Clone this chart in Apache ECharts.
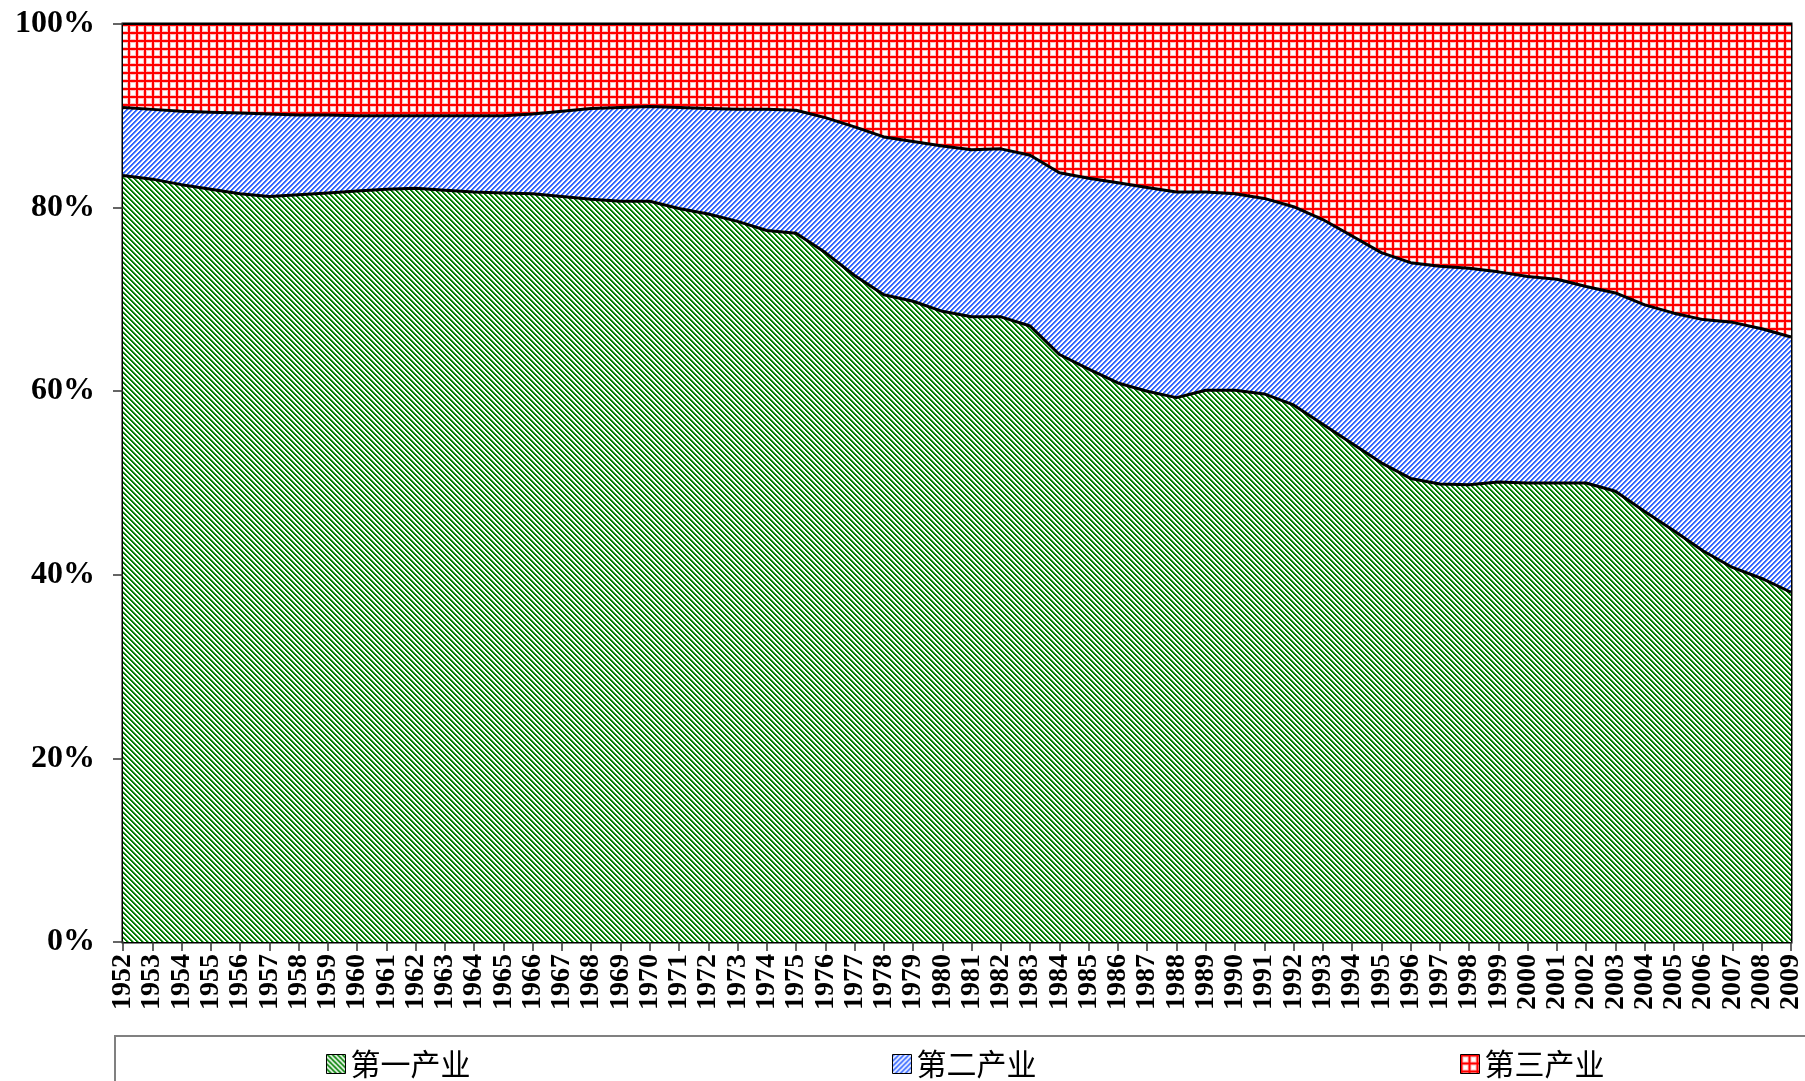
<!DOCTYPE html>
<html>
<head>
<meta charset="utf-8">
<title>三次产业就业结构</title>
<script src="https://cdn.jsdelivr.net/npm/echarts@6/dist/echarts.min.js"></script>
<style>
  html, body { margin: 0; padding: 0; background: #fff; }
  #main { width: 1805px; height: 1081px; }
</style>
</head>
<body>
<div id="main"></div>
<script>
// 年份
const years = ['1952', '1953', '1954', '1955', '1956', '1957', '1958', '1959', '1960', '1961',
  '1962', '1963', '1964', '1965', '1966', '1967', '1968', '1969', '1970', '1971',
  '1972', '1973', '1974', '1975', '1976', '1977', '1978', '1979', '1980', '1981',
  '1982', '1983', '1984', '1985', '1986', '1987', '1988', '1989', '1990', '1991',
  '1992', '1993', '1994', '1995', '1996', '1997', '1998', '1999', '2000', '2001',
  '2002', '2003', '2004', '2005', '2006', '2007', '2008', '2009'];

// 第一产业（%）
const primary = [83.5, 83.1, 82.5, 82.0, 81.5, 81.2, 81.4, 81.6, 81.8, 82.0,
  82.1, 81.9, 81.7, 81.6, 81.5, 81.2, 80.9, 80.7, 80.7, 79.9,
  79.3, 78.5, 77.5, 77.2, 75.1, 72.6, 70.5, 69.8, 68.7, 68.1,
  68.1, 67.1, 64.0, 62.4, 60.9, 60.0, 59.3, 60.1, 60.1, 59.7,
  58.5, 56.4, 54.3, 52.2, 50.5, 49.9, 49.8, 50.1, 50.0, 50.0,
  50.0, 49.1, 46.9, 44.8, 42.6, 40.8, 39.6, 38.1];

// 第二产业（%）
const secondary = [7.4, 7.6, 8.0, 8.4, 8.8, 9.0, 8.7, 8.5, 8.2, 8.0,
  7.9, 8.1, 8.3, 8.4, 8.7, 9.3, 9.9, 10.2, 10.3, 11.0,
  11.5, 12.2, 13.2, 13.4, 14.7, 16.2, 17.2, 17.4, 18.0, 18.2,
  18.3, 18.6, 19.8, 20.8, 21.8, 22.2, 22.4, 21.6, 21.4, 21.3,
  21.6, 22.3, 22.6, 22.9, 23.5, 23.7, 23.6, 22.9, 22.5, 22.2,
  21.4, 21.6, 22.5, 23.7, 25.2, 26.7, 27.2, 27.8];

// 第三产业（%）
const tertiary = [9.1, 9.3, 9.5, 9.6, 9.7, 9.8, 9.9, 9.9, 10.0, 10.0,
  10.0, 10.0, 10.0, 10.0, 9.8, 9.5, 9.2, 9.1, 9.0, 9.1,
  9.2, 9.3, 9.3, 9.4, 10.2, 11.2, 12.3, 12.8, 13.3, 13.7,
  13.6, 14.3, 16.2, 16.8, 17.3, 17.8, 18.3, 18.3, 18.5, 19.0,
  19.9, 21.3, 23.1, 24.9, 26.0, 26.4, 26.6, 27.0, 27.5, 27.8,
  28.6, 29.3, 30.6, 31.5, 32.2, 32.5, 33.2, 34.1];

const yTicks = [0, 20, 40, 60, 80, 100];

// 像素级填充图案
const makePattern = (size, pick) => {
  const c = document.createElement('canvas');
  c.width = size;
  c.height = size;
  const ctx = c.getContext('2d');
  const img = ctx.createImageData(size, size);
  for (let y = 0; y < size; y++) {
    for (let x = 0; x < size; x++) {
      const col = pick(x, y);
      const i = (y * size + x) * 4;
      img.data[i] = col[0];
      img.data[i + 1] = col[1];
      img.data[i + 2] = col[2];
      img.data[i + 3] = 255;
    }
  }
  ctx.putImageData(img, 0, 0);
  return c;
};

const WHITE = [255, 255, 255];
const greenTile = makePattern(5, (x, y) => {
  const d = (x - y + 5) % 5;
  return d < 2 ? [0, 128, 0] : (d === 2 ? [128, 192, 128] : WHITE);
});
const blueTile = makePattern(5, (x, y) => {
  const d = (x + y) % 5;
  return d < 2 ? [51, 102, 255] : (d === 2 ? [153, 178, 255] : WHITE);
});
const redTile = makePattern(8, (x, y) => {
  const a = x % 8, b = y % 8;
  if (a < 2 || b < 2) return [255, 0, 0];
  if (a === 2 || b === 2 || a === 7 || b === 7) return [255, 190, 190];
  return WHITE;
});

const greenPat = { image: greenTile, repeat: 'repeat' };
const bluePat = { image: blueTile, repeat: 'repeat' };
const redPat = { image: redTile, repeat: 'repeat' };

const serif = 'Liberation Serif';
const legendText = { fontSize: 30, fontFamily: 'Noto Sans CJK SC', color: '#000' };

const oneLegend = (name, pat, left) => ({
  left: left,
  top: 1049,
  padding: 0,
  itemWidth: 19,
  itemHeight: 19,
  itemGap: 8,
  selectedMode: false,
  textStyle: legendText,
  data: [{ name: name, icon: 'rect', itemStyle: { color: pat, borderColor: '#000', borderWidth: 1 } }]
});

const areaSeries = (name, data, pat, lineWidth) => ({
  name: name,
  type: 'line',
  stack: 'total',
  data: data,
  symbol: 'none',
  lineStyle: { color: '#000', width: lineWidth },
  itemStyle: { color: pat },
  areaStyle: { color: pat, opacity: 1 },
  z: 2
});

const chart = echarts.init(document.getElementById('main'));
chart.setOption({
  animation: false,
  backgroundColor: '#fff',
  grid: {
    left: 123,
    right: 9,
    top: 24,
    bottom: 139,
    show: true,
    borderColor: '#000',
    borderWidth: 3,
    backgroundColor: 'transparent'
  },
  legend: [
    oneLegend('第一产业', greenPat, 326),
    oneLegend('第二产业', bluePat, 892),
    oneLegend('第三产业', redPat, 1460)
  ],
  graphic: [{
    type: 'rect',
    shape: { x: 115, y: 1036, width: 1760, height: 120 },
    style: { fill: 'none', stroke: '#808080', lineWidth: 2 },
    silent: true
  }],
  xAxis: {
    type: 'category',
    data: years,
    boundaryGap: false,
    axisLine: { lineStyle: { color: '#000', width: 2 } },
    axisTick: { interval: 0, length: 9, lineStyle: { color: '#333', width: 1.5 } },
    axisLabel: {
      interval: 0,
      rotate: 90,
      margin: 12,
      color: '#000',
      fontFamily: serif,
      fontWeight: 'bold',
      fontSize: 28
    },
    splitLine: { show: false }
  },
  yAxis: {
    type: 'value',
    min: yTicks[0],
    max: yTicks[yTicks.length - 1],
    interval: 20,
    axisLine: { show: true, lineStyle: { color: '#000', width: 2 } },
    axisTick: { show: true, length: 10, lineStyle: { color: '#333', width: 1.5 } },
    axisLabel: {
      margin: 28,
      color: '#000',
      fontFamily: serif,
      fontWeight: 'bold',
      fontSize: 32,
      formatter: '{value}%'
    },
    splitLine: { show: false }
  },
  series: [
    areaSeries('第一产业', primary, greenPat, 3),
    areaSeries('第二产业', secondary, bluePat, 3),
    areaSeries('第三产业', tertiary, redPat, 2)
  ]
});
</script>
</body>
</html>
